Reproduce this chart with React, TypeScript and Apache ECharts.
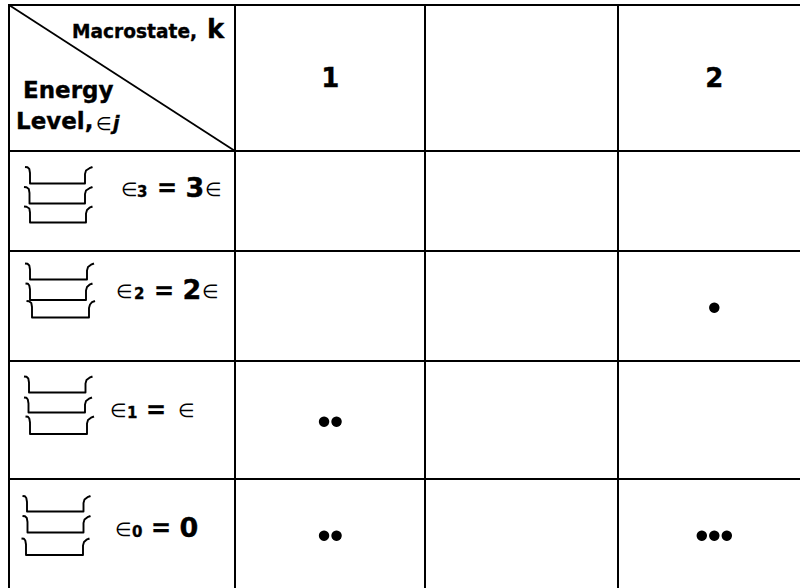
import React, { useEffect, useRef } from "react";
import * as echarts from "echarts";

const macrostates = ["1", "", "2"];
const occupancy = [
  [0, 0, 0],
  [0, 0, 1],
  [2, 0, 0],
  [2, 0, 3],
];
const colEdges = [9, 235, 425, 618, 800];
const rowEdges = [5, 151, 251, 361, 479, 588];
const colCenters = [330.3, 521, 714.3];
const rowCenters = [200, 307.7, 421.7, 535.7];
const dotSpacing = 12.5;
const FONT = "'DejaVu Sans', sans-serif";

// left hook x, top y, bottom-left x, bottom-right x, right hook x, bottom y
const brackets = [
  [25, 167, 30, 85, 92.5, 183.5], [24, 187, 29.5, 85, 92.5, 203.5], [24, 206.5, 30, 86, 92.5, 222.5],
  [25, 263.5, 30, 87, 94, 279.5], [25.5, 283.5, 30, 86, 92.5, 300], [26.5, 301, 32, 89, 95, 317.5],
  [24, 376.5, 29, 85.5, 92.5, 392.5], [24, 397.5, 28.5, 85, 92, 412.5], [25.5, 416.5, 30, 87, 94, 434],
  [22.5, 496, 27, 83.5, 90.5, 511.5], [22.5, 516, 27.5, 83.5, 90.5, 532.5], [21.5, 538.5, 26, 83, 89.5, 555],
];

const levelLabels = [
  { base: 197, sym: 121, subX: 137, sub: "3", eq: 157, numX: 185.5, num: "3", tail: 205 },
  { base: 299.5, sym: 116, subX: 134, sub: "2", eq: 154, numX: 182.5, num: "2", tail: 202 },
  { base: 418.5, sym: 110, subX: 127, sub: "1", eq: 146, numX: 0, num: "", tail: 178 },
  { base: 537, sym: 115, subX: 132, sub: "0", eq: 151, numX: 179.5, num: "0", tail: 0 },
];

function App() {
  const ref = useRef<HTMLDivElement>(null);
  useEffect(() => {
    document.body.style.margin = "0";
    document.body.style.background = "#fff";
    const chart = echarts.init(ref.current!, null, { renderer: "svg" });

    const lineStyle = { stroke: "#000", lineWidth: 2 };
    const graphics: any[] = [];
    rowEdges.slice(0, 5).forEach((y) =>
      graphics.push({ type: "line", shape: { x1: colEdges[0] - 1, y1: y, x2: 800, y2: y }, style: lineStyle })
    );
    colEdges.slice(0, 4).forEach((x) =>
      graphics.push({ type: "line", shape: { x1: x, y1: rowEdges[0], x2: x, y2: 588 }, style: lineStyle })
    );
    graphics.push({
      type: "line",
      shape: { x1: colEdges[0], y1: rowEdges[0], x2: colEdges[1], y2: rowEdges[1] },
      style: { stroke: "#000", lineWidth: 1.8 },
    });
    brackets.forEach(([x0, y0, xl, xr, x1, yb]) => {
      graphics.push({
        type: "polyline",
        shape: {
          points: [
            [x0, y0], [x0 + 2.5, y0 + 0.3], [xl - 0.7, y0 + 2], [xl, y0 + 6], [xl, yb], [xr, yb],
            [xr, y0 + 7], [xr + 1, y0 + 3.5], [x1 - 3, y0 + 1.2], [x1, y0],
          ],
        },
        style: { stroke: "#000", lineWidth: 1.9, fill: "none", lineJoin: "round" },
      });
    });
    const t = (text: string, x: number, base: number, fontSize: number, extra: any = {}) =>
      graphics.push({
        type: "text", x, y: base - 0.87 * fontSize,
        style: {
          text, fontFamily: FONT, fontWeight: "bold", fontSize, fill: "#000",
          stroke: extra.fontWeight === "normal" ? undefined : "#000",
          lineWidth: extra.fontWeight === "normal" ? 0 : 0.35,
          align: "left", verticalAlign: "top", ...extra,
        },
      });
    macrostates.forEach((m, i) => {
      if (m) t(m, colCenters[i], 87.5, 26, { align: "center" });
    });
    t("Macrostate,", 72, 38.5, 18.6);
    t("k", 207, 38.5, 26);
    t("Energy", 23, 99, 23);
    t("Level,", 16, 130, 23);
    t("∈", 96, 130, 18, { fontWeight: "normal" });
    t("j", 113, 130, 19, { fontStyle: "italic" });
    levelLabels.forEach((l) => {
      t("∈", l.sym, l.base - 1, 19, { fontWeight: "normal" });
      t(l.sub, l.subX, l.base + 0.5, 15);
      t("=", l.eq, l.base, 24);
      if (l.num) t(l.num, l.numX, l.base, 27);
      if (l.tail) t("∈", l.tail, l.base - 1, 19, { fontWeight: "normal" });
    });

    const cells: number[][] = [];
    occupancy.forEach((row, l) => row.forEach((n, c) => { if (n) cells.push([c, l, n]); }));

    chart.setOption({
      animation: false,
      backgroundColor: "#fff",
      grid: { left: 0, right: 0, top: 0, bottom: 0 },
      xAxis: { type: "value", min: 0, max: 800, show: false },
      yAxis: { type: "value", min: 0, max: 588, inverse: true, show: false },
      graphic: graphics,
      series: [
        {
          type: "custom",
          coordinateSystem: "cartesian2d",
          data: cells,
          silent: true,
          renderItem: (_: any, api: any) => {
            const c = api.value(0), l = api.value(1), n = api.value(2);
            const children = [];
            for (let i = 0; i < n; i++) {
              const p = api.coord([colCenters[c] + (i - (n - 1) / 2) * dotSpacing, rowCenters[l]]);
              children.push({ type: "circle", shape: { cx: p[0], cy: p[1], r: 5.2 }, style: { fill: "#000" } });
            }
            return { type: "group", children };
          },
        },
      ],
    });
    return () => chart.dispose();
  }, []);
  return <div ref={ref} style={{ width: 800, height: 588 }} />;
}

export default App;
